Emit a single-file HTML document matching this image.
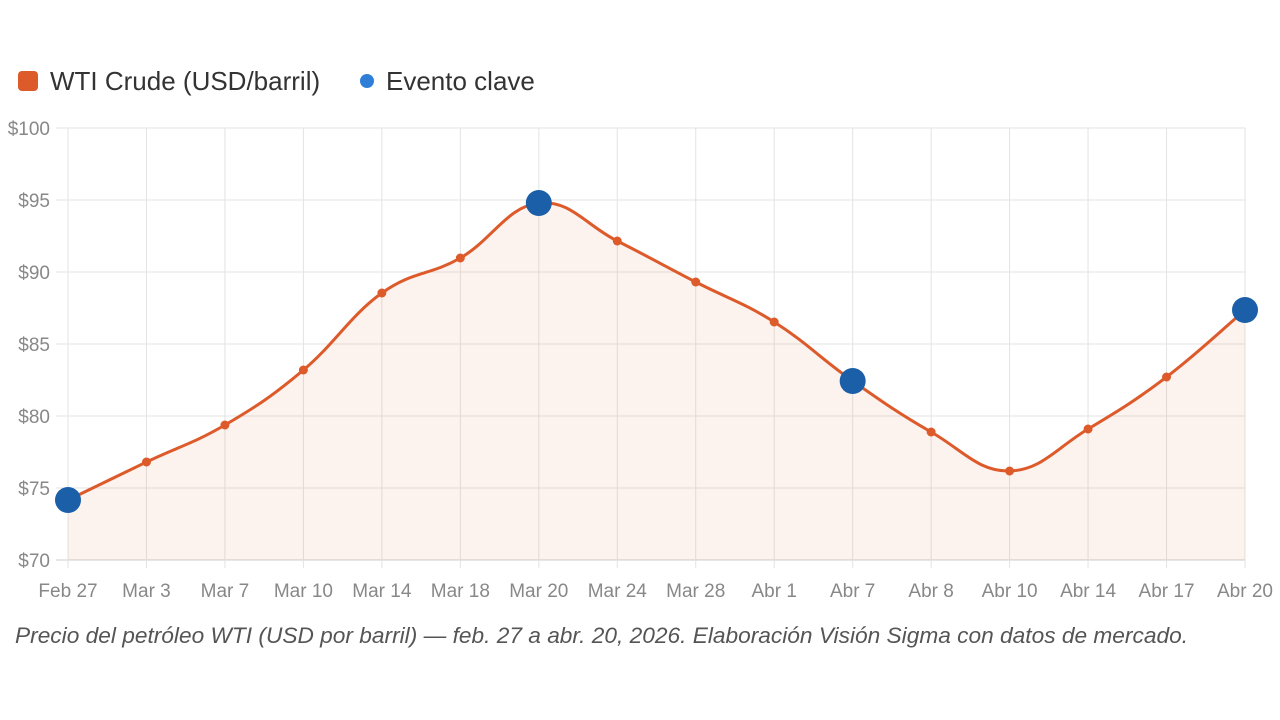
<!DOCTYPE html>
<html><head><meta charset="utf-8"><style>
html,body{margin:0;padding:0;background:#fff;width:1280px;height:720px;overflow:hidden}
svg text{font-family:"Liberation Sans",sans-serif}
</style></head><body>
<svg id="s" width="1280" height="720" xmlns="http://www.w3.org/2000/svg">
<rect x="18" y="71" width="20" height="20" rx="4" fill="#dd5a2b"/>
<text x="50" y="90" font-size="26" fill="#333">WTI Crude (USD/barril)</text>
<circle cx="367" cy="81" r="7" fill="#2f7fd8"/>
<text x="386" y="90" font-size="26" fill="#333">Evento clave</text>
<g id="grid"></g>
<path id="area" fill="#dd5a2b" fill-opacity="0.08"/>
<path id="line" fill="none" stroke="#dd5a2b" stroke-width="3"/>
<g id="pts"></g>
<text x="15" y="643" font-size="22.6" font-style="italic" fill="#555" textLength="1173" lengthAdjust="spacingAndGlyphs">Precio del petróleo WTI (USD por barril) — feb. 27 a abr. 20, 2026. Elaboración Visión Sigma con datos de mercado.</text>
</svg>
<script>
var NS="http://www.w3.org/2000/svg";
function el(t,a,p,txt){var e=document.createElementNS(NS,t);for(var k in a)e.setAttribute(k,a[k]);if(txt)e.textContent=txt;document.getElementById(p).appendChild(e);return e;}
var labels=["Feb 27","Mar 3","Mar 7","Mar 10","Mar 14","Mar 18","Mar 20","Mar 24","Mar 28","Abr 1","Abr 7","Abr 8","Abr 10","Abr 14","Abr 17","Abr 20"];
var ys=[500,462,425,370,293,258,203,241,282,322,381,432,471,429,377,310];
var x0=68,dx=(1245-68)/15;
for(var i=0;i<7;i++){var y=128+i*72;
el("line",{x1:56,x2:1245,y1:y,y2:y,stroke:i==6?"#ccc":"#e3e3e3","stroke-width":1},"grid");
el("text",{x:50,y:y+7,"font-size":19,fill:"#888","text-anchor":"end"},"grid","$"+(100-5*i));}
for(var i=0;i<16;i++){var x=x0+i*dx;
el("line",{x1:x,x2:x,y1:128,y2:568,stroke:"#e3e3e3","stroke-width":1},"grid");
el("text",{x:x,y:597,"font-size":19,fill:"#888","text-anchor":"middle"},"grid",labels[i]);}
var P=ys.map(function(y,i){return[x0+i*dx,y]});
var d="M"+P[0][0]+","+P[0][1];var t=0.4;
for(var i=0;i<P.length-1;i++){var p0=P[Math.max(i-1,0)],p1=P[i],p2=P[i+1],p3=P[Math.min(i+2,P.length-1)];
var c1x=p1[0]+(p2[0]-p0[0])*t/2,c1y=p1[1]+(p2[1]-p0[1])*t/2,c2x=p2[0]-(p3[0]-p1[0])*t/2,c2y=p2[1]-(p3[1]-p1[1])*t/2;
d+=" C"+c1x+","+c1y+" "+c2x+","+c2y+" "+p2[0]+","+p2[1];}
document.getElementById("line").setAttribute("d",d);
document.getElementById("area").setAttribute("d",d+" L1245,560 L68,560 Z");
var big=[0,6,10,15];
P.forEach(function(p,i){if(big.indexOf(i)>=0)el("circle",{cx:p[0],cy:p[1],r:13,fill:"#1a5fa8"},"pts");else el("circle",{cx:p[0],cy:p[1],r:4.5,fill:"#dd5a2b"},"pts");});
</script>
</body></html>
